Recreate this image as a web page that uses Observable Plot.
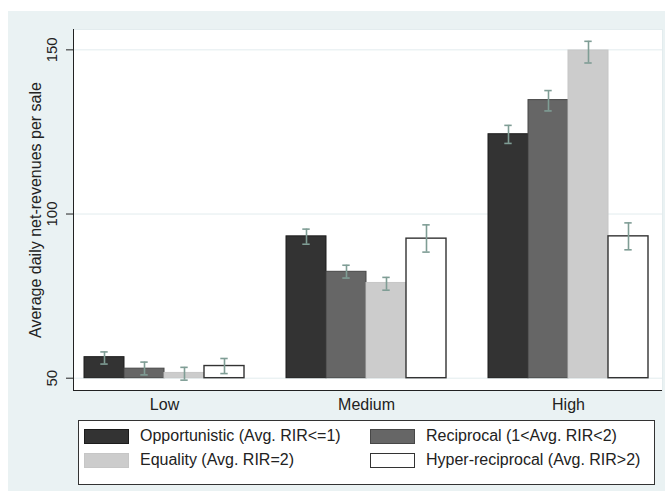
<!DOCTYPE html>
<html><head><meta charset="utf-8">
<script src="https://cdn.jsdelivr.net/npm/d3@7"></script>
<script src="https://cdn.jsdelivr.net/npm/@observablehq/plot@0.6"></script>
<style>
body{margin:0;background:#fff;width:665px;height:491px;position:relative;overflow:hidden;font-family:"Liberation Sans",Arial,sans-serif;}
#panel{position:absolute;left:8px;top:11px;width:657px;height:480px;background:#eaf2f3;}
#bg,#fg{position:absolute;left:0;top:0;}
#legend{position:absolute;left:78px;top:420px;width:575px;height:63px;border:1px solid #333;background:#fff;}
.item{position:absolute;display:flex;align-items:center;font-size:16px;color:#222;white-space:nowrap;height:16px;}
.sw{width:45px;height:15px;margin-right:11px;box-sizing:border-box;}
</style></head><body>
<div id="panel"></div><div id="bg"></div><div id="fg"></div><div id="legend"></div>
<script>
const groups = ["Low", "Medium", "High"];
const series = ["Opportunistic (Avg. RIR<=1)", "Reciprocal (1<Avg. RIR<2)", "Equality (Avg. RIR=2)", "Hyper-reciprocal (Avg. RIR>2)"];
const meanOpp = [56.4, 93.2, 124.3];
const loOpp   = [54.3, 90.8, 121.5];
const hiOpp   = [58.0, 95.4, 127.0];
const meanRec = [52.9, 82.4, 134.7];
const loRec   = [51.0, 80.5, 131.4];
const hiRec   = [54.9, 84.4, 137.6];
const meanEq  = [51.6, 79.0, 149.8];
const loEq    = [49.4, 76.8, 146.0];
const hiEq    = [53.3, 80.7, 152.6];
const meanHyp = [53.7, 92.5, 93.2];
const loHyp   = [51.4, 88.4, 89.1];
const hiHyp   = [56.0, 96.7, 97.3];
const yTicks = [50, 100, 150];
const yTitle = "Average daily net-revenues per sale";
const barBase = 50;
const yDomain = [46.25, 156.2];

const fills   = ["#333333", "#666666", "#cccccc", "#ffffff"];
const strokes = ["#1c1c1c", "#474747", "#c6c6c6", "#333333"];

const seriesData = [[meanOpp, loOpp, hiOpp], [meanRec, loRec, hiRec], [meanEq, loEq, hiEq], [meanHyp, loHyp, hiHyp]];
const rows = [];
seriesData.forEach(([m, lo, hi], si) => groups.forEach((g, gi) => rows.push({group: g, series: series[si], si, value: m[gi], lo: lo[gi], hi: hi[gi]})));

const W = 665, H = 415, mTop = 29, mBottom = 25, mLeft = 73;
const font = {fontFamily: "'Liberation Sans', Arial, sans-serif", fontSize: "16px", background: "transparent", color: "#222", overflow: "visible"};

// background: plot region, grid, axes
const bg = Plot.plot({
  width: W, height: H, marginTop: mTop, marginBottom: mBottom, marginLeft: mLeft, marginRight: 3,
  style: font,
  x: {domain: [0, 1], axis: null},
  y: {domain: yDomain, axis: null},
  marks: [
    Plot.frame({fill: "white", stroke: "#e3ecee"}),
    Plot.ruleY(yTicks, {stroke: "#e3ecee", strokeWidth: 1}),
    Plot.axisY(yTicks, {tickSize: 7, tickFormat: () => "", stroke: "#222", label: null}),
    Plot.text(yTicks, {y: d => d, text: d => String(d), frameAnchor: "left", dx: -21, rotate: -90, fontSize: 15, fill: "#222", textAnchor: "middle", lineAnchor: "middle"}),
    Plot.text([yTitle], {frameAnchor: "left", dx: -38, rotate: -90, fontSize: 16, fill: "#222", textAnchor: "middle", lineAnchor: "middle"}),
    Plot.ruleX([0], {stroke: "#222"}),
    Plot.ruleY([yDomain[0]], {stroke: "#222"})
  ]
});
document.getElementById("bg").appendChild(bg);

// foreground: bars and error bars
const fg = Plot.plot({
  width: W, height: H, marginTop: mTop, marginBottom: mBottom, marginLeft: mLeft, marginRight: 5.7,
  style: font,
  fx: {domain: groups, paddingInner: 0.1113, paddingOuter: 0, label: null},
  x: {domain: series, paddingInner: 0, paddingOuter: 0.2217, axis: null},
  y: {domain: yDomain, axis: null},
  marks: [
    ...series.map((s, i) => Plot.barY(rows.filter(r => r.si === i), {
      fx: "group", x: "series", y1: () => barBase, y2: "value",
      fill: fills[i], stroke: strokes[i], strokeWidth: i === 3 ? 1.4 : 1
    })),
    Plot.ruleX(rows, {fx: "group", x: "series", y1: "lo", y2: "hi", stroke: "#7f9d95", strokeWidth: 1.6}),
    Plot.tickY(rows, {fx: "group", x: "series", y: "lo", stroke: "#7f9d95", strokeWidth: 1.6, insetLeft: 16.3, insetRight: 16.3}),
    Plot.tickY(rows, {fx: "group", x: "series", y: "hi", stroke: "#7f9d95", strokeWidth: 1.6, insetLeft: 16.3, insetRight: 16.3}),
    Plot.axisFx({anchor: "bottom", tickSize: 0, tickPadding: 8, fontSize: 16, label: null, fill: "#222"})
  ]
});
document.getElementById("fg").appendChild(fg);

// legend
const legend = document.getElementById("legend");
const pos = [[5, 7], [291, 7], [5, 31], [291, 31]];
series.forEach((s, i) => {
  const it = document.createElement("div");
  it.className = "item";
  it.style.left = pos[i][0] + "px";
  it.style.top = pos[i][1] + "px";
  const sw = document.createElement("div");
  sw.className = "sw";
  sw.style.background = fills[i];
  sw.style.border = "1px solid " + strokes[i];
  it.appendChild(sw);
  const t = document.createElement("span");
  t.textContent = s;
  it.appendChild(t);
  legend.appendChild(it);
});
</script>
</body></html>
